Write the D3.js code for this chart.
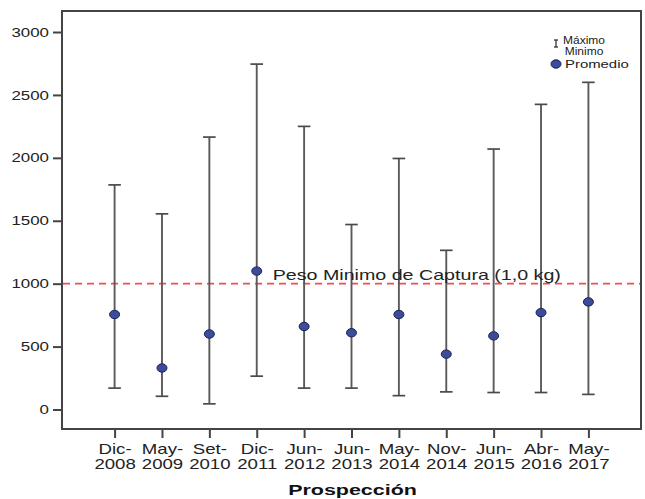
<!DOCTYPE html>
<html>
<head>
<meta charset="utf-8">
<script src="https://cdn.jsdelivr.net/npm/d3@7"></script>
<style>
  html, body { margin: 0; padding: 0; background: #fff; }
  svg { display: block; font-family: "Liberation Sans", Arial, sans-serif; }
</style>
</head>
<body>
<svg id="chart" width="645" height="499"></svg>
<script>
// Survey campaigns (prospecciones)
const categories = ["Dic-2008", "May-2009", "Set-2010", "Dic-2011", "Jun-2012", "Jun-2013",
                    "May-2014", "Nov-2014", "Jun-2015", "Abr-2016", "May-2017"];
// Weight range and average per campaign (g)
const maxima = [1785, 1555, 2165, 2745, 2250, 1470, 1995, 1265, 2070, 2425, 2600];
const minima = [170, 105, 45, 265, 170, 170, 110, 140, 135, 135, 120];
const means  = [755, 330, 600, 1100, 660, 610, 755, 440, 585, 770, 855];
const yTicks = [0, 500, 1000, 1500, 2000, 2500, 3000];
const minCatch = 1000;
const minCatchLabel = "Peso Minimo de Captura (1,0 kg)";
const xTitle = "Prospección";

const svg = d3.select("#chart");
const frame = { left: 62, right: 641, top: 11, bottom: 429 };
const textColor = "#222";
const lineColor = "#444";
const sx = 1.32; // horizontal stretch of the text

const x = d3.scalePoint().domain(categories).range([frame.left, frame.right]).padding(1.11);
const y = d3.scaleLinear().domain([-155, 3167]).range([frame.bottom, frame.top]);

// Y axis
const yAxis = svg.append("g")
  .attr("transform", `translate(${frame.left},0)`)
  .call(d3.axisLeft(y).tickValues(yTicks).tickSize(9).tickSizeOuter(0).tickFormat(d3.format("d")));
yAxis.select(".domain").remove();
yAxis.selectAll(".tick line").attr("stroke", lineColor).attr("stroke-width", 2);
yAxis.selectAll(".tick text")
  .attr("x", -13 / sx)
  .attr("transform", `scale(${sx},1)`)
  .attr("fill", textColor)
  .style("font-size", "12.8px")
  .style("font-family", "'Liberation Sans', Arial, sans-serif");

// X axis
const xAxis = svg.append("g")
  .attr("transform", `translate(0,${frame.bottom})`)
  .call(d3.axisBottom(x).tickSize(9).tickSizeOuter(0).tickFormat(""));
xAxis.select(".domain").remove();
xAxis.selectAll(".tick line").attr("stroke", lineColor).attr("stroke-width", 2);
xAxis.selectAll(".tick text").remove();
xAxis.selectAll(".tick").each(function(d) {
  const parts = d.split("-");
  const t = d3.select(this).append("text")
    .attr("transform", `scale(1.33,1)`)
    .attr("text-anchor", "middle")
    .attr("fill", textColor)
    .style("font-size", "14px");
  t.append("tspan").attr("x", 0).attr("y", 25).text(parts[0] + "-");
  t.append("tspan").attr("x", 0).attr("y", 40).text(parts[1]);
});

// Plot frame
svg.append("rect")
  .attr("x", frame.left).attr("y", frame.top)
  .attr("width", frame.right - frame.left).attr("height", frame.bottom - frame.top)
  .attr("fill", "none").attr("stroke", lineColor).attr("stroke-width", 2);

// Minimum catch weight reference line
svg.append("line")
  .attr("x1", frame.left + 1).attr("x2", frame.right - 1)
  .attr("y1", y(minCatch)).attr("y2", y(minCatch))
  .attr("stroke", "#f04c55").attr("stroke-width", 1.6)
  .attr("stroke-dasharray", "7,5");

// Range bars
const bars = svg.append("g").selectAll("g").data(categories).join("g");
bars.append("line")
  .attr("x1", (d) => x(d)).attr("x2", (d) => x(d))
  .attr("y1", (d, i) => y(maxima[i])).attr("y2", (d, i) => y(minima[i]))
  .attr("stroke", "#5a5a5a").attr("stroke-width", 1.9);
bars.append("line")
  .attr("x1", (d) => x(d) - 6.3).attr("x2", (d) => x(d) + 6.3)
  .attr("y1", (d, i) => y(maxima[i])).attr("y2", (d, i) => y(maxima[i]))
  .attr("stroke", "#4a4a4a").attr("stroke-width", 1.7);
bars.append("line")
  .attr("x1", (d) => x(d) - 6.3).attr("x2", (d) => x(d) + 6.3)
  .attr("y1", (d, i) => y(minima[i])).attr("y2", (d, i) => y(minima[i]))
  .attr("stroke", "#4a4a4a").attr("stroke-width", 1.7);

// Label for the reference line (drawn before the points so they sit on top)
svg.append("text")
  .attr("transform", `translate(${x(categories[3]) + 16},${y(minCatch) - 4}) scale(${1.31},1)`)
  .attr("fill", textColor)
  .style("font-size", "15px")
  .text(minCatchLabel);

// Averages
bars.append("ellipse")
  .attr("cx", (d) => x(d)).attr("cy", (d, i) => y(means[i]))
  .attr("rx", 5).attr("ry", 4.2)
  .attr("fill", "#3d4b9c").attr("stroke", "#1c2250").attr("stroke-width", 1);

// Legend
const legend = svg.append("g");
legend.append("line").attr("x1", 556).attr("x2", 556).attr("y1", 40).attr("y2", 47)
  .attr("stroke", "#333").attr("stroke-width", 1.3);
legend.append("line").attr("x1", 554).attr("x2", 558).attr("y1", 40).attr("y2", 40)
  .attr("stroke", "#333").attr("stroke-width", 1.3);
legend.append("line").attr("x1", 554).attr("x2", 558).attr("y1", 47).attr("y2", 47)
  .attr("stroke", "#333").attr("stroke-width", 1.3);
legend.append("text")
  .attr("transform", "translate(584,44) scale(1.2,1)")
  .attr("text-anchor", "middle").attr("fill", textColor)
  .style("font-size", "10px").text("Máximo");
legend.append("text")
  .attr("transform", "translate(584,55) scale(1.2,1)")
  .attr("text-anchor", "middle").attr("fill", textColor)
  .style("font-size", "10px").text("Minimo");
legend.append("ellipse").attr("cx", 556).attr("cy", 64).attr("rx", 5).attr("ry", 4.2)
  .attr("fill", "#3d4b9c").attr("stroke", "#1c2250").attr("stroke-width", 1);
legend.append("text")
  .attr("transform", "translate(565,68) scale(1.42,1)")
  .attr("fill", textColor)
  .style("font-size", "10.5px").text("Promedio");

// Axis title
svg.append("text")
  .attr("transform", `translate(${(x(categories[0]) + x(categories[categories.length - 1])) / 2 + 1},495) scale(1.48,1)`)
  .attr("text-anchor", "middle")
  .attr("fill", "#111")
  .style("font-size", "14.5px").style("font-weight", "bold")
  .text(xTitle);
</script>
</body>
</html>
